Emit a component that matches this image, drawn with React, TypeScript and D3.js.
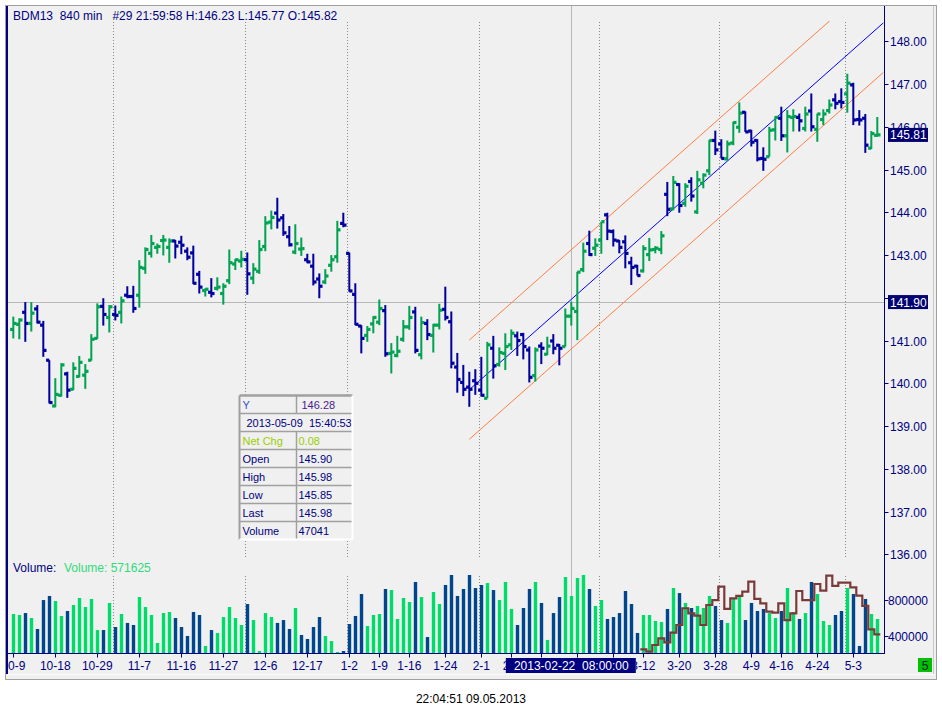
import React, { useEffect, useRef } from 'react';
import * as d3 from 'd3';

// one bar per session, 10-9 .. 5-9
const opens = [
  141.26, 141.38, 141.66, 141.40, 141.74, 141.36, 140.54, 139.47, 139.72, 140.22,
  139.86, 140.16, 140.19, 140.54, 141.05, 141.80, 141.54, 141.61, 141.66, 142.06,
  142.03, 142.06, 142.69, 143.04, 143.18, 143.34, 143.18, 143.33, 143.30, 143.09,
  143.05, 142.55, 142.17, 142.13, 142.22, 142.10, 142.40, 142.79, 142.86, 142.89,
  142.46, 142.62, 143.20, 143.77, 143.98, 143.87, 143.43, 143.07, 143.14, 142.89,
  142.74, 142.44, 142.37, 142.76, 142.96, 143.74, 143.04, 142.08, 141.34, 141.12,
  141.39, 141.43, 141.70, 140.70, 140.65, 141.03, 141.32, 141.67, 140.67, 141.40,
  141.12, 141.36, 141.73, 141.44, 140.38, 140.02, 139.91, 140.06, 139.84, 139.65,
  140.82, 140.44, 140.70, 140.90, 141.11, 141.14, 140.78, 140.18, 140.87, 140.68,
  140.99, 140.89, 140.86, 141.57, 141.68, 142.66, 143.27, 143.16, 143.35, 143.94,
  143.55, 143.33, 143.31, 142.82, 142.74, 142.63, 143.01, 143.13, 143.13, 144.42,
  144.08, 144.65, 144.21, 144.72, 144.01, 144.68, 144.97, 145.68, 145.60, 145.25,
  145.62, 145.99, 146.34, 145.90, 145.68, 145.26, 145.30, 145.93, 146.20, 145.79,
  146.22, 146.22, 145.96, 146.37, 145.94, 146.17, 146.38, 146.63, 146.59, 146.77,
  146.98, 146.17, 146.20, 145.50, 145.80,
];
const highs = [
  141.56, 141.52, 141.90, 141.90, 141.83, 141.46, 140.54, 140.12, 140.47, 140.27,
  140.49, 140.64, 140.45, 141.15, 141.87, 141.99, 141.83, 141.82, 142.03, 142.27,
  142.28, 142.88, 143.18, 143.47, 143.27, 143.47, 143.39, 143.35, 143.45, 143.18,
  143.22, 142.63, 142.22, 142.46, 142.48, 142.34, 143.13, 142.91, 143.10, 143.06,
  142.81, 143.35, 143.91, 144.04, 144.34, 143.96, 143.68, 143.72, 143.41, 143.03,
  143.03, 142.57, 142.67, 143.00, 143.80, 143.99, 143.06, 142.34, 141.36, 141.34,
  141.57, 141.96, 141.83, 140.94, 141.11, 141.48, 141.81, 141.79, 141.56, 141.50,
  141.39, 141.86, 142.26, 141.68, 140.71, 140.43, 140.27, 140.33, 140.62, 140.97,
  141.11, 140.84, 141.17, 141.26, 141.21, 141.18, 140.86, 140.84, 140.96, 141.09,
  141.15, 140.92, 141.75, 141.91, 142.61, 143.29, 143.57, 143.39, 143.78, 143.99,
  143.60, 143.35, 143.46, 142.96, 142.77, 143.23, 143.40, 143.21, 143.56, 144.71,
  144.85, 144.68, 144.68, 144.82, 144.97, 144.91, 145.69, 145.91, 145.71, 145.68,
  146.12, 146.57, 146.36, 145.93, 145.71, 145.52, 146.00, 146.25, 146.47, 146.39,
  146.41, 146.31, 146.47, 146.78, 146.31, 146.41, 146.64, 146.78, 146.90, 147.24,
  147.03, 146.39, 146.30, 145.90, 146.23,
];
const lows = [
  141.05, 141.03, 140.97, 141.21, 141.40, 140.62, 139.53, 139.44, 139.69, 139.66,
  139.84, 140.14, 139.87, 140.53, 141.04, 141.35, 141.19, 141.47, 141.40, 141.99,
  141.65, 141.77, 142.56, 142.94, 143.03, 142.99, 142.82, 142.92, 143.02, 142.88,
  142.32, 142.10, 142.03, 142.01, 142.17, 141.84, 142.32, 142.65, 142.71, 142.07,
  142.32, 142.56, 143.09, 143.60, 143.62, 143.45, 143.20, 143.02, 142.98, 142.81,
  142.29, 141.99, 142.32, 142.61, 142.82, 143.65, 142.14, 141.36, 140.70, 140.97,
  141.17, 141.36, 140.62, 140.23, 140.61, 140.97, 141.25, 140.70, 140.56, 141.01,
  140.72, 141.26, 141.47, 140.35, 139.78, 139.70, 139.45, 139.73, 139.69, 139.65,
  140.11, 140.39, 140.31, 140.78, 140.64, 140.56, 140.02, 140.04, 140.45, 140.66,
  140.68, 140.42, 140.86, 141.35, 141.01, 142.60, 142.98, 142.98, 143.03, 143.35,
  143.20, 143.04, 142.69, 142.30, 142.52, 142.59, 142.86, 143.04, 143.02, 143.91,
  144.05, 143.99, 144.13, 144.25, 143.96, 144.56, 144.87, 145.34, 145.26, 145.21,
  145.57, 145.86, 145.88, 145.54, 145.19, 144.97, 145.30, 145.68, 145.67, 145.40,
  145.89, 145.89, 145.89, 145.89, 145.65, 146.04, 146.31, 146.41, 146.43, 146.33,
  146.04, 146.03, 145.39, 145.48, 145.77,
];
const closes = [
  141.40, 141.48, 141.40, 141.64, 141.43, 140.77, 139.55, 139.74, 140.43, 139.84,
  140.35, 140.49, 140.28, 141.03, 141.79, 141.61, 141.79, 141.59, 141.93, 142.03,
  141.75, 142.71, 143.13, 143.27, 143.20, 143.35, 143.33, 143.21, 143.23, 142.95,
  142.34, 142.25, 142.20, 142.10, 142.25, 142.27, 142.82, 142.89, 142.90, 142.56,
  142.67, 143.13, 143.75, 143.88, 143.82, 143.52, 143.24, 143.27, 143.15, 142.84,
  142.37, 142.27, 142.51, 142.89, 143.59, 143.70, 142.16, 141.38, 141.05, 141.26,
  141.54, 141.75, 140.69, 140.73, 140.75, 141.32, 141.54, 140.77, 141.42, 141.14,
  141.36, 141.71, 141.54, 140.47, 140.09, 139.86, 139.86, 140.00, 139.72, 140.90,
  140.41, 140.72, 140.86, 141.17, 141.00, 140.86, 140.14, 140.78, 140.82, 140.87,
  140.82, 140.82, 141.57, 141.75, 142.60, 143.09, 143.01, 143.23, 143.78, 143.56,
  143.35, 143.18, 143.04, 142.71, 142.52, 143.15, 143.12, 143.16, 143.45, 144.07,
  144.70, 144.16, 144.61, 144.38, 144.76, 144.87, 145.68, 145.46, 145.26, 145.60,
  146.10, 146.32, 145.88, 145.64, 145.25, 145.24, 145.92, 146.22, 145.79, 146.24,
  146.24, 146.14, 146.30, 146.00, 146.30, 146.30, 146.51, 146.55, 146.57, 147.02,
  146.16, 146.16, 145.57, 145.84, 145.81,
];
const volumes = [
  645, 634, 656, 600, 476, 803, 849, 792, 623, 679,
  747, 826, 724, 815, 464, 464, 770, 498, 645, 544,
  521, 837, 724, 634, 318, 656, 668, 600, 498, 397,
  668, 634, 284, 464, 431, 611, 724, 600, 521, 758,
  577, 227, 656, 611, 544, 577, 476, 713, 408, 363,
  498, 611, 397, 340, 216, 227, 532, 623, 871, 510,
  634, 645, 928, 916, 589, 826, 781, 1007, 837, 385,
  894, 758, 973, 1086, 849, 928, 1086, 939, 973, 995,
  916, 803, 1007, 702, 521, 713, 928, 1007, 770, 352,
  656, 837, 1063, 849, 1052, 1086, 928, 736, 803, 589,
  611, 656, 905, 758, 431, 634, 634, 566, 555, 702,
  939, 882, 770, 713, 736, 713, 849, 736, 577, 544,
  826, 837, 577, 770, 679, 702, 656, 600, 679, 939,
  668, 589, 656, 1007, 871, 566, 521, 634, 679, 939,
  871, 284, 815, 645, 589,
].map((k) => k * 1000);
// g = up volume, b = down volume
const volumeDirs = (
  'ggbgbbbggb' + 'gggggbgbgb' + 'bggggggbbb' + 'bbgbgggggb' + 'ggggbbbgbb' +
  'bbgggbbbbg' + 'ggbggggbgb' + 'ggbbbbbbbg' + 'bgggbbbgbg' + 'bbggggbggb' +
  'bbbbbggggb' + 'gbgbgggbbg' + 'ggbbbbggbg' + 'gbgbgggbbg' + 'bbbgg'
).split('');
const stepFrom = 105;
const stepValues = [
  246, 219, 295, 370, 325, 434, 521, 710, 653, 626,
  521, 747, 803, 954, 702, 822, 849, 897, 1010, 815,
  766, 671, 660, 766, 577, 653, 905, 803, 803, 984,
  909, 1078, 962, 999, 999, 947, 852, 736, 472, 416,
].map((k) => k * 1000);

const dateTicks: [number, string][] = [
  [0, '10-9'], [7, '10-18'], [14, '10-29'], [21, '11-7'], [28, '11-16'], [35, '11-27'],
  [42, '12-6'], [49, '12-17'], [56, '1-2'], [61, '1-9'], [66, '1-16'], [72, '1-24'],
  [78, '2-1'], [83, '2-8'], [88, '2-15'], [94, '2-25'], [100, '3-5'], [105, '3-12'],
  [111, '3-20'], [117, '3-28'], [123, '4-9'], [128, '4-16'], [134, '4-24'], [140, '5-3'],
];
const monthStarts = [17, 39, 56, 78, 98, 118, 139];
const priceTicks = [148, 147, 146, 145, 144, 143, 142, 141, 140, 139, 138, 137, 136];
const volumeTicks = [800000, 400000];

const channelFrom: [number, number] = [76, 139.85];
const channelTo: [number, number] = [145, 148.43];
const channelWidth = 1.16;
const crossBar = 93;
const crossPrice = 141.9;
const lastPrice = 145.81;

const infoRows: [string, string][] = [
  ['Y', '146.28'], ['2013-05-09  15:40:53', ''], ['Net Chg', '0.08'], ['Open', '145.90'],
  ['High', '145.98'], ['Low', '145.85'], ['Last', '145.98'], ['Volume', '47041'],
];

const FONT = '"Liberation Sans", Arial, sans-serif';
const NAVY = '#000080';

const App = () => {
  const ref = useRef<SVGSVGElement | null>(null);

  useEffect(() => {
    if (!ref.current) return;
    const svg = d3.select(ref.current);
    svg.selectAll('*').remove();

    const x = d3.scaleLinear().domain([0, 144]).range([13.3, 877.3]);
    const y = d3.scaleLinear().domain([136, 148]).range([554.3, 41.3]);
    const v = d3.scaleLinear().domain([400000, 800000]).range([635.7, 600.3]);
    const base = 653.5;
    const axisX = 884.5;

    // date label of the crosshair covers part of the time axis
    const cx = x(crossBar);
    const dateBoxL = cx - 65.5;
    const dateBoxR = cx + 64.5;
    // price flags cover parts of the price axis
    const flags = [lastPrice, crossPrice].map((p) => y(p)).sort((a, b) => a - b);

    const defs = svg.append('defs');
    defs.append('clipPath').attr('id', 'pane')
      .append('rect').attr('x', 8).attr('y', 21).attr('width', 876).attr('height', 538);
    const xclip = defs.append('clipPath').attr('id', 'xlab');
    xclip.append('rect').attr('x', 8).attr('y', 655).attr('width', dateBoxL - 8).attr('height', 20);
    xclip.append('rect').attr('x', dateBoxR).attr('y', 655).attr('width', 885 - dateBoxR).attr('height', 20);
    const yclip = defs.append('clipPath').attr('id', 'ylab');
    let top = 6;
    flags.forEach((f) => {
      yclip.append('rect').attr('x', 885).attr('y', top).attr('width', 48).attr('height', f - 7 - top);
      top = f + 7;
    });
    yclip.append('rect').attr('x', 885).attr('y', top).attr('width', 48).attr('height', 570 - top);

    // window frame
    svg.append('rect').attr('x', 5.5).attr('y', 5.5).attr('width', 931).attr('height', 674)
      .attr('fill', '#f0f0f0').attr('stroke', '#a0a0a0');
    svg.append('line').attr('x1', 7).attr('x2', 935).attr('y1', 674.5).attr('y2', 674.5)
      .attr('stroke', '#fafafa');
    svg.append('line').attr('x1', 933.5).attr('x2', 933.5).attr('y1', 6).attr('y2', 674)
      .attr('stroke', '#c8c8c8');

    // month separators
    const grid = svg.append('g').attr('stroke', '#8a8a8a').attr('stroke-dasharray', '1,2');
    monthStarts.forEach((m) => {
      const gx = Math.round(x(m) - 2) + 0.5;
      grid.append('line').attr('x1', gx).attr('x2', gx).attr('y1', 22).attr('y2', 558);
      grid.append('line').attr('x1', gx).attr('x2', gx).attr('y1', 576).attr('y2', base);
    });

    // crosshair
    svg.append('line').attr('x1', Math.round(cx) + 0.5).attr('x2', Math.round(cx) + 0.5)
      .attr('y1', 6).attr('y2', base).attr('stroke', '#b8b8b8');
    svg.append('line').attr('x1', 7).attr('x2', axisX)
      .attr('y1', Math.round(y(crossPrice)) + 0.5).attr('y2', Math.round(y(crossPrice)) + 0.5)
      .attr('stroke', '#b8b8b8');

    // regression channel
    const chan = svg.append('g').attr('clip-path', 'url(#pane)').attr('fill', 'none');
    const seg = (off: number) => d3.line()([
      [x(channelFrom[0]), y(channelFrom[1] + off)],
      [x(channelTo[0]), y(channelTo[1] + off)],
    ]);
    chan.append('path').attr('d', seg(channelWidth)).attr('stroke', '#ff7f40');
    chan.append('path').attr('d', seg(-channelWidth)).attr('stroke', '#ff7f40');
    chan.append('path').attr('d', seg(0)).attr('stroke', '#0000ff');

    // OHLC bars
    const bars = svg.append('g').attr('clip-path', 'url(#pane)');
    opens.forEach((o, i) => {
      const col = closes[i] >= o ? '#00a352' : '#0000a0';
      const bx = x(i);
      bars.append('rect').attr('x', bx - 1).attr('width', 2)
        .attr('y', y(highs[i])).attr('height', Math.max(1, y(lows[i]) - y(highs[i]))).attr('fill', col);
      bars.append('rect').attr('x', bx - 3.2).attr('width', 3.2)
        .attr('y', y(o) - 1.6).attr('height', 3.2).attr('fill', col);
      bars.append('rect').attr('x', bx).attr('width', 3.2)
        .attr('y', y(closes[i]) - 1.6).attr('height', 3.2).attr('fill', col);
    });

    // volume
    volumes.forEach((vol, i) => {
      svg.append('rect').attr('x', x(i) - 1.5).attr('width', 3.4)
        .attr('y', v(vol)).attr('height', base - v(vol))
        .attr('fill', volumeDirs[i] === 'g' ? '#00dc69' : '#00468c');
    });
    const stepPts: [number, number][] = [];
    stepValues.forEach((s, k) => {
      const sx = x(stepFrom + k);
      stepPts.push([sx - 3, v(s)], [sx + 3, v(s)]);
    });
    svg.append('path').attr('d', d3.line()(stepPts)).attr('fill', 'none')
      .attr('stroke', '#7a3a3a').attr('stroke-width', 2.2);

    // axes
    svg.append('line').attr('x1', 7).attr('x2', 7).attr('y1', 6).attr('y2', 674)
      .attr('stroke', NAVY).attr('stroke-width', 2);
    svg.append('line').attr('x1', axisX).attr('x2', axisX).attr('y1', 6).attr('y2', base + 0.5)
      .attr('stroke', NAVY);
    svg.append('line').attr('x1', 7).attr('x2', axisX).attr('y1', base).attr('y2', base)
      .attr('stroke', NAVY);

    const txt = (sel: any, size: number, fill: string) =>
      sel.attr('font-family', FONT).attr('font-size', size).attr('fill', fill);

    const yl = svg.append('g').attr('clip-path', 'url(#ylab)');
    priceTicks.forEach((p) => {
      const py = Math.round(y(p)) + 0.5;
      svg.append('line').attr('x1', axisX).attr('x2', axisX + 4).attr('y1', py).attr('y2', py).attr('stroke', NAVY);
      // a label sitting right under a price flag is hidden by it
      if (flags.some((f) => Math.abs(f - py) < 5)) return;
      txt(yl.append('text').attr('x', 890).attr('y', py + 4.5).text(p.toFixed(2)), 12, NAVY);
    });
    volumeTicks.forEach((t) => {
      const py = Math.round(v(t)) + 0.5;
      svg.append('line').attr('x1', axisX).attr('x2', axisX + 4).attr('y1', py).attr('y2', py).attr('stroke', NAVY);
      txt(svg.append('text').attr('x', 888).attr('y', py + 4.5).text(String(t)), 12, NAVY);
    });
    [lastPrice, crossPrice].forEach((p) => {
      const py = y(p);
      svg.append('rect').attr('x', 888).attr('y', py - 7).attr('width', 40).attr('height', 14).attr('fill', '#000070');
      txt(svg.append('text').attr('x', 890).attr('y', py + 4.5).text(p.toFixed(2)), 12, '#ffffff');
    });

    const xl = svg.append('g').attr('clip-path', 'url(#xlab)');
    dateTicks.forEach(([i, label]) => {
      const tx = Math.round(x(i)) + 0.5;
      svg.append('line').attr('x1', tx).attr('x2', tx).attr('y1', base).attr('y2', base + 4).attr('stroke', NAVY);
      const half = label.length * 3.4;
      // labels that sit wholly under the crosshair date are not shown
      if (x(i) - half > dateBoxL && x(i) + half < dateBoxR) return;
      txt(xl.append('text').attr('x', x(i)).attr('y', 670).attr('text-anchor', 'middle').text(label), 12, NAVY);
    });
    svg.append('rect').attr('x', dateBoxL).attr('y', 658).attr('width', dateBoxR - dateBoxL).attr('height', 15).attr('fill', NAVY);
    txt(svg.append('text').attr('x', cx).attr('y', 670).attr('text-anchor', 'middle')
      .style('white-space', 'pre').text('2013-02-22  08:00:00'), 12, '#ffffff');

    svg.append('rect').attr('x', 918).attr('y', 658).attr('width', 14).attr('height', 14).attr('fill', '#00c000');
    txt(svg.append('text').attr('x', 925).attr('y', 670).attr('text-anchor', 'middle').text('5'), 12, '#102040');

    // captions
    txt(svg.append('text').attr('x', 13).attr('y', 19.5).style('white-space', 'pre')
      .text('BDM13  840 min   #29 21:59:58 H:146.23 L:145.77 O:145.82'), 12, NAVY);
    txt(svg.append('text').attr('x', 13).attr('y', 572).text('Volume:'), 12, NAVY);
    txt(svg.append('text').attr('x', 64).attr('y', 572).text('Volume: 571625'), 12, '#2edc78');

    // data window
    const bx = 239.5, by = 395.5, bw = 113, rh = 18, cw = 57;
    const box = svg.append('g');
    box.append('rect').attr('x', bx).attr('y', by).attr('width', bw).attr('height', rh * infoRows.length)
      .attr('fill', '#f0f0f0');
    infoRows.forEach(([label, value], r) => {
      const ry = by + r * rh;
      if (r > 0) box.append('line').attr('x1', bx).attr('x2', bx + bw).attr('y1', ry).attr('y2', ry)
        .attr('stroke', '#a0a0a0').attr('stroke-width', 1.5);
      if (r !== 1) box.append('line').attr('x1', bx + cw).attr('x2', bx + cw).attr('y1', ry).attr('y2', ry + rh)
        .attr('stroke', '#a0a0a0').attr('stroke-width', 1.5);
      const lc = r === 0 ? '#3550c8' : r === 2 ? '#9acd00' : NAVY;
      const vc = r === 0 ? '#4a2090' : r === 2 ? '#9acd00' : NAVY;
      txt(box.append('text').attr('x', r === 1 ? bx + 7 : bx + 3).attr('y', ry + 13.5)
        .style('white-space', 'pre').text(label), 11, lc);
      if (value) txt(box.append('text').attr('x', bx + cw + (r === 0 ? 5 : 2)).attr('y', ry + 13.5).text(value), 11, vc);
    });
    const bh = rh * infoRows.length;
    box.append('line').attr('x1', bx).attr('x2', bx + bw).attr('y1', by).attr('y2', by)
      .attr('stroke', '#a0a0a0').attr('stroke-width', 2.5);
    box.append('line').attr('x1', bx).attr('x2', bx).attr('y1', by).attr('y2', by + bh)
      .attr('stroke', '#a0a0a0').attr('stroke-width', 2);
    box.append('line').attr('x1', bx + bw).attr('x2', bx + bw).attr('y1', by).attr('y2', by + bh)
      .attr('stroke', '#ffffff').attr('stroke-width', 2);
    box.append('line').attr('x1', bx).attr('x2', bx + bw).attr('y1', by + bh).attr('y2', by + bh)
      .attr('stroke', '#ffffff').attr('stroke-width', 2);

    txt(svg.append('text').attr('x', 471).attr('y', 703).attr('text-anchor', 'middle')
      .text('22:04:51 09.05.2013'), 12, '#000000');
  }, []);

  return (
    <svg ref={ref} width={942} height={716}
      style={{ position: 'absolute', left: 0, top: 0, background: '#ffffff' }} />
  );
};

export default App;
